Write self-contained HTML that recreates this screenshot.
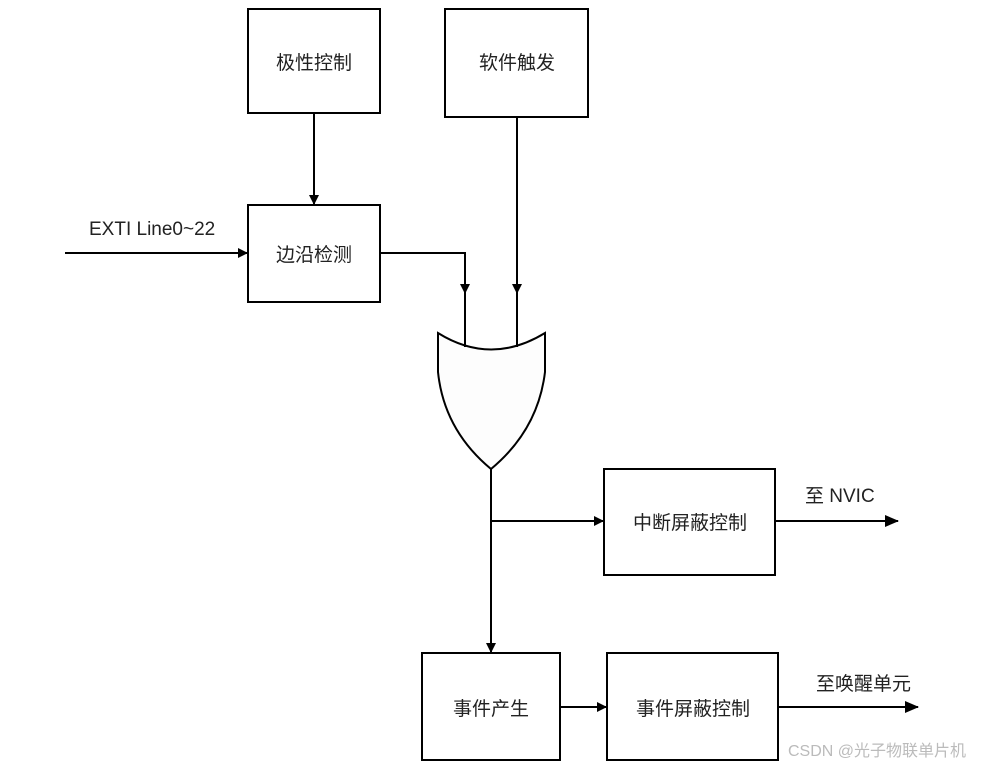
<!DOCTYPE html>
<html><head><meta charset="utf-8"><style>
html,body{margin:0;padding:0;background:#fff;}
svg text{font-family:"Liberation Sans","Noto Sans CJK SC",sans-serif;font-size:19px;fill:#222;}
</style></head><body>
<svg width="1005" height="770" viewBox="0 0 1005 770" xmlns="http://www.w3.org/2000/svg">
<defs><marker id="a" markerWidth="10" markerHeight="10" refX="9" refY="5" orient="auto" markerUnits="userSpaceOnUse"><path d="M0,0 L10,5 L0,10 z" fill="#000"/></marker>
<marker id="b" markerWidth="14" markerHeight="14" refX="13" refY="7" orient="auto" markerUnits="userSpaceOnUse"><path d="M0,1 L14,7 L0,13 z" fill="#000"/></marker></defs>
<g fill="#fff" stroke="#000" stroke-width="2">
<rect x="248" y="9" width="132" height="104"/>
<rect x="445" y="9" width="143" height="108"/>
<rect x="248" y="205" width="132" height="97"/>
<rect x="604" y="469" width="171" height="106"/>
<rect x="422" y="653" width="138" height="107"/>
<rect x="607" y="653" width="171" height="107"/>
<path d="M438,333 Q491,366 545,333 L545,372 Q538,430 491,469 Q444,430 438,372 Z" fill="#fdfdfd"/>
</g>
<g stroke="#000" stroke-width="2" fill="none">
<line x1="314" y1="113" x2="314" y2="204" marker-end="url(#a)"/>
<line x1="65" y1="253" x2="247" y2="253" marker-end="url(#a)"/>
<polyline points="380,253 465,253 465,293" marker-end="url(#a)"/>
<line x1="465" y1="290" x2="465" y2="347"/>
<line x1="517" y1="117" x2="517" y2="293" marker-end="url(#a)"/>
<line x1="517" y1="290" x2="517" y2="347"/>
<line x1="491" y1="469" x2="491" y2="652" marker-end="url(#a)"/>
<line x1="491" y1="521" x2="603" y2="521" marker-end="url(#a)"/>
<line x1="775" y1="521" x2="898" y2="521" marker-end="url(#b)"/>
<line x1="560" y1="707" x2="606" y2="707" marker-end="url(#a)"/>
<line x1="778" y1="707" x2="918" y2="707" marker-end="url(#b)"/>
</g>
<g text-anchor="middle">
<text x="314" y="69">极性控制</text>
<text x="517" y="69">软件触发</text>
<text x="314" y="261">边沿检测</text>
<text x="690" y="529">中断屏蔽控制</text>
<text x="491" y="715">事件产生</text>
<text x="693" y="715">事件屏蔽控制</text>
</g>
<text x="89" y="235">EXTI Line0~22</text>
<text x="805" y="502">至 NVIC</text>
<text x="816" y="690">至唤醒单元</text>
<text x="788" y="756" style="font-size:16px;fill:#bbb">CSDN @光子物联单片机</text>
</svg>
</body></html>
